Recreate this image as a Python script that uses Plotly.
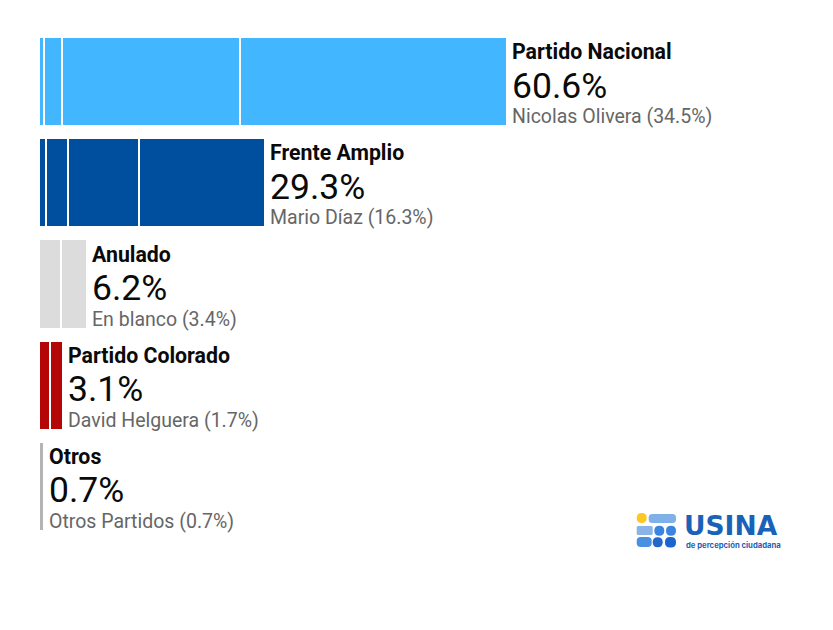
import plotly.graph_objects as go

# parties top to bottom
parties = ["Partido Nacional", "Frente Amplio", "Anulado", "Partido Colorado", "Otros"]
totals = ["60.6%", "29.3%", "6.2%", "3.1%", "0.7%"]
details = ["Nicolas Olivera (34.5%)", "Mario Díaz (16.3%)", "En blanco (3.4%)",
           "David Helguera (1.7%)", "Otros Partidos (0.7%)"]
colors = ["#42b6ff", "#004f9e", "#dcdcdc", "#b40606", "#b4b4b4"]

# stacked pieces of each bar, left to right
nacional = [0.7, 2.3, 23.1, 34.5]
frente = [0.9, 2.9, 9.2, 16.3]
anulado = [2.8, 3.4]
colorado = [1.4, 1.7]
otros = [0.6]
pieces = [nacional, frente, anulado, colorado, otros]

# the page body adds 8px around the figure
BODY = 8
W, H = 833 - BODY, 630 - BODY
ML, MR, MT, MB = 39 - BODY, 0, 31 - BODY, 93
PX_PER_UNIT = 7.72


def px(x):
    return (x - BODY - ML) / (W - ML - MR)


def py(y):
    return 1 - (y - BODY - MT) / (H - MT - MB)


def pill(x0, y0, x1, y1, r, color):
    a, b, c, d = px(x0), py(y0), px(x1), py(y1)
    rx, ry = r / (W - ML - MR), r / (H - MT - MB)
    path = (f"M {a + rx} {b} L {c - rx} {b} Q {c} {b} {c} {b - ry} L {c} {d + ry} "
            f"Q {c} {d} {c - rx} {d} L {a + rx} {d} Q {a} {d} {a} {d + ry} "
            f"L {a} {b - ry} Q {a} {b} {a + rx} {b} Z")
    return dict(type="path", xref="paper", yref="paper", path=path,
                fillcolor=color, line_width=0, layer="above")


fig = go.Figure()

for name, segs, color in zip(parties, pieces, colors):
    for seg in segs:
        fig.add_trace(go.Bar(
            x=[seg], y=[name], orientation="h",
            marker=dict(color=color, line=dict(color="white", width=2)),
            hoverinfo="skip", showlegend=False,
        ))

annotations = []
for name, total, detail, segs in zip(parties, totals, details, pieces):
    end = sum(segs)
    common = dict(x=end, y=name, xref="x", yref="y", xanchor="left", yanchor="middle",
                  xshift=3, showarrow=False, align="left")
    annotations.append(dict(common, text=f"<b>{name}</b>", yshift=30,
                            font=dict(family="Roboto", size=21.3, color="#0a0a0a")))
    annotations.append(dict(common, text=total, yshift=-4,
                            font=dict(family="Roboto", size=35.5, color="#0a0a0a")))
    annotations.append(dict(common, text=detail, yshift=-35,
                            font=dict(family="Roboto", size=19.5, color="#666666")))

# logo, bottom right
annotations.append(dict(x=px(681.5), y=py(525.5), xref="paper", yref="paper", xanchor="left",
                        yanchor="middle", showarrow=False, text="<b>USINA</b>",
                        font=dict(family="DejaVu Sans", size=26.5, color="#1a62b8")))
annotations.append(dict(x=px(684), y=py(545), xref="paper", yref="paper", xanchor="left",
                        yanchor="middle", showarrow=False, text="<b>de percepción ciudadana</b>",
                        font=dict(family="Inter", size=7.7, color="#1a62b8")))

logo = [
    pill(636.7, 513, 646.7, 523, 5, "#ffc820"),
    pill(648.7, 514, 676, 523, 3.5, "#7fb0e8"),
    pill(636.7, 526, 652.7, 535, 1.5, "#8ab4e8"),
    pill(654.3, 525.7, 664.3, 535.7, 5, "#3b85e0"),
    pill(666, 525.7, 676, 535.7, 5, "#3b85e0"),
    pill(636.7, 537, 651.7, 547, 4, "#4a90e2"),
    pill(652.7, 537.3, 662.7, 547.3, 5, "#2268c8"),
    pill(665, 537, 676, 547.5, 5, "#1a66d0"),
]

fig.update_layout(
    barmode="stack",
    bargap=0.12,
    width=W,
    height=H,
    margin=dict(l=ML, r=MR, t=MT, b=MB),
    paper_bgcolor="white",
    plot_bgcolor="white",
    showlegend=False,
    annotations=annotations,
    shapes=logo,
    xaxis=dict(range=[0, (W - ML - MR) / PX_PER_UNIT], visible=False),
    yaxis=dict(categoryorder="array", categoryarray=parties, autorange="reversed", visible=False),
)

fig.write_html("out.html", config={"displayModeBar": False})
